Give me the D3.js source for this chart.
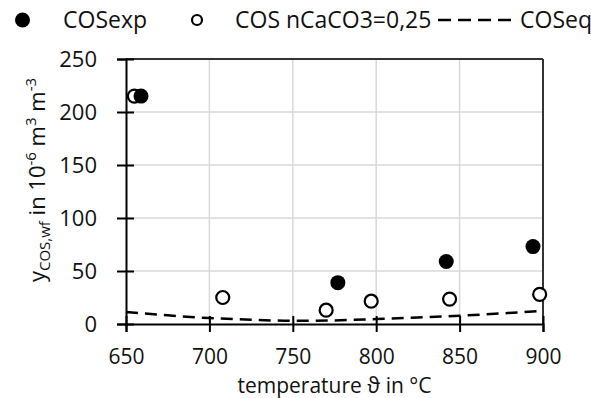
<!DOCTYPE html>
<html>
<head>
<meta charset="utf-8">
<script src="https://cdn.jsdelivr.net/npm/d3@7"></script>
<style>
  body { margin: 0; background: #fff; }
  text { font-family: "Open Sans", sans-serif; fill: #111; }
</style>
</head>
<body>
<script>
// data
let expT = [659, 777, 842, 894];
let expY = [215, 39, 59, 73];
let calT = [655, 708, 770, 797, 844, 898];
let calY = [215, 25, 13, 21.5, 23.5, 28];
let eqT = [650, 675, 700, 725, 750, 775, 800, 825, 850, 875, 900];
let eqY = [11.3, 8.2, 5.6, 4, 3, 3.4, 4.7, 6.2, 7.8, 10, 12.5];
let xTicks = [650, 700, 750, 800, 850, 900];
let yTicks = [0, 50, 100, 150, 200, 250];

let margin = { top: 59, right: 48, bottom: 74, left: 126 },
  width = 591 - margin.left - margin.right,
  height = 398 - margin.top - margin.bottom;

let svg = d3.select("body").append("svg")
  .attr("width", 591)
  .attr("height", 398);
let g = svg.append("g")
  .attr("transform", "translate(" + margin.left + "," + margin.top + ")");

let x = d3.scaleLinear().domain([650, 900]).range([0, width]);
let y = d3.scaleLinear().domain([0, 250]).range([height, 0]);

// grid
g.append("g").selectAll("line").data(xTicks.slice(1, -1)).join("line")
  .attr("x1", d => x(d)).attr("x2", d => x(d))
  .attr("y1", 0).attr("y2", height)
  .attr("stroke", "#d9d9d9").attr("stroke-width", 1.5);
g.append("g").selectAll("line").data(yTicks.slice(1, -1)).join("line")
  .attr("x1", 0).attr("x2", width)
  .attr("y1", d => y(d)).attr("y2", d => y(d))
  .attr("stroke", "#d9d9d9").attr("stroke-width", 1.5);

// frame top / right
g.append("line").attr("x1", 0).attr("x2", width).attr("y1", 0).attr("y2", 0)
  .attr("stroke", "#333").attr("stroke-width", 2);
g.append("line").attr("x1", width).attr("x2", width).attr("y1", 0).attr("y2", height)
  .attr("stroke", "#333").attr("stroke-width", 2);

// axes with crossing ticks
let x_axis = d3.axisBottom(x).tickValues(xTicks).tickSize(8).tickPadding(17);
let y_axis = d3.axisLeft(y).tickValues(yTicks).tickSize(9).tickPadding(20);
let x_node = g.append("g").attr("transform", "translate(0," + height + ")").call(x_axis);
let y_node = g.append("g").call(y_axis);
[x_node, y_node].forEach(n => {
  n.select(".domain").attr("stroke", "#000").attr("stroke-width", 2);
  n.selectAll(".tick line").attr("stroke", "#000").attr("stroke-width", 2);
  n.selectAll(".tick text").style("font-size", "22px").attr("fill", "#111");
});
x_node.selectAll(".tick text").style("font-size", "21px");
x_node.selectAll(".tick line").attr("y1", -8);
y_node.selectAll(".tick line").attr("x1", 8);

// equilibrium line
let l = d3.line()
  .x((d, i) => x(eqT[i]))
  .y(d => y(d))
  .curve(d3.curveMonotoneX);
g.append("path").datum(eqY)
  .attr("d", l)
  .attr("fill", "none")
  .attr("stroke", "#000")
  .attr("stroke-width", 2.5)
  .attr("stroke-dasharray", "12,7");

// open circles
g.append("g").selectAll("circle").data(calY).join("circle")
  .attr("cx", (d, i) => x(calT[i])).attr("cy", d => y(d))
  .attr("r", 6.5)
  .attr("fill", "#fff").attr("stroke", "#000").attr("stroke-width", 2.2);

// filled circles
g.append("g").selectAll("circle").data(expY).join("circle")
  .attr("cx", (d, i) => x(expT[i])).attr("cy", d => y(d))
  .attr("r", 7.5)
  .attr("fill", "#000");

// axis titles
svg.append("text")
  .attr("x", margin.left + width / 2).attr("y", 393)
  .attr("text-anchor", "middle")
  .style("font-size", "21px")
  .text("temperature ϑ in °C");

let yt = svg.append("text")
  .attr("transform", "translate(45,180) rotate(-90)")
  .attr("text-anchor", "middle")
  .style("font-size", "22px");
yt.append("tspan").text("y");
yt.append("tspan").attr("dy", 5).style("font-size", "15px").text("COS,wf");
yt.append("tspan").attr("dy", -5).text(" in 10");
yt.append("tspan").attr("dy", -9).style("font-size", "15px").text("-6");
yt.append("tspan").attr("dy", 9).text(" m");
yt.append("tspan").attr("dy", -9).style("font-size", "15px").text("3");
yt.append("tspan").attr("dy", 9).text(" m");
yt.append("tspan").attr("dy", -9).style("font-size", "15px").text("-3");

// legend
let lg = svg.append("g");
lg.append("circle").attr("cx", 22.5).attr("cy", 20).attr("r", 7.5).attr("fill", "#000");
lg.append("text").attr("x", 63).attr("y", 28).style("font-size", "23px").text("COSexp");
lg.append("circle").attr("cx", 197).attr("cy", 20).attr("r", 5).attr("fill", "#fff")
  .attr("stroke", "#000").attr("stroke-width", 2.2);
lg.append("text").attr("x", 235).attr("y", 28).style("font-size", "23px").text("COS nCaCO3=0,25");
lg.append("line").attr("x1", 438).attr("x2", 512).attr("y1", 20).attr("y2", 20)
  .attr("stroke", "#000").attr("stroke-width", 2.5).attr("stroke-dasharray", "13,7");
lg.append("text").attr("x", 520).attr("y", 28).style("font-size", "23px").text("COSeq");
</script>
</body>
</html>
